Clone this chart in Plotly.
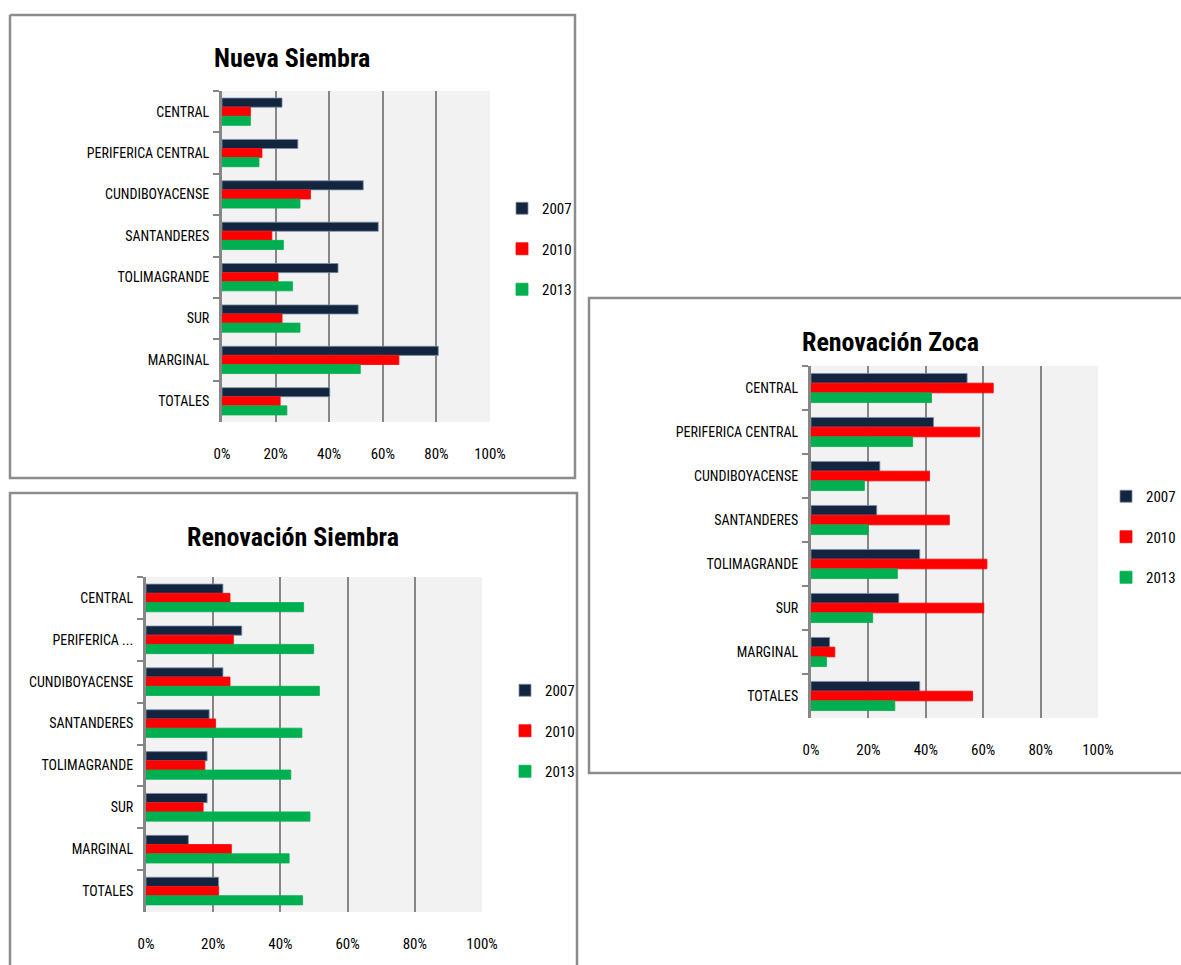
import plotly.graph_objects as go

W, H = 1181, 965
FONT = "Roboto Condensed, Carlito, DejaVu Sans Condensed, sans-serif"

# ---------------- data ----------------
YEARS = ["2007", "2010", "2013"]
COLORS = ["#13243F", "#FF0000", "#00B050"]

CATEGORIES = ["CENTRAL", "PERIFERICA CENTRAL", "CUNDIBOYACENSE", "SANTANDERES",
              "TOLIMAGRANDE", "SUR", "MARGINAL", "TOTALES"]
CATEGORIES_RS = ["CENTRAL", "PERIFERICA ...", "CUNDIBOYACENSE", "SANTANDERES",
                 "TOLIMAGRANDE", "SUR", "MARGINAL", "TOTALES"]

TICK_VALUES = [0, 0.2, 0.4, 0.6, 0.8, 1.0]
TICK_LABELS = ["0%", "20%", "40%", "60%", "80%", "100%"]

# Nueva Siembra
NS_2007 = [0.224, 0.283, 0.527, 0.583, 0.433, 0.508, 0.807, 0.402]
NS_2010 = [0.106, 0.149, 0.330, 0.186, 0.209, 0.224, 0.660, 0.217]
NS_2013 = [0.106, 0.138, 0.291, 0.229, 0.263, 0.291, 0.516, 0.242]

# Renovación Siembra
RS_2007 = [0.229, 0.285, 0.229, 0.188, 0.182, 0.182, 0.126, 0.216]
RS_2010 = [0.250, 0.260, 0.250, 0.207, 0.175, 0.170, 0.254, 0.216]
RS_2013 = [0.469, 0.499, 0.516, 0.464, 0.431, 0.488, 0.426, 0.466]

# Renovación Zoca
RZ_2007 = [0.544, 0.427, 0.240, 0.229, 0.379, 0.306, 0.065, 0.379]
RZ_2010 = [0.635, 0.588, 0.413, 0.482, 0.613, 0.602, 0.083, 0.563]
RZ_2013 = [0.420, 0.354, 0.186, 0.199, 0.301, 0.215, 0.054, 0.292]


def px_x(p):
    return p / W


def px_y(p):
    return 1 - p / H


def frame_path(points):
    return "M " + " L ".join(f"{px_x(x):.5f},{px_y(y):.5f}" for x, y in points)


# layout geometry (pixels); frames as open outlines (parts cut by the page edge are omitted)
charts = [
    dict(title="Nueva Siembra", cats=CATEGORIES, vals=[NS_2007, NS_2010, NS_2013],
         plot_x=(222, 490), plot_y=(91, 422), title_pos=(292, 58),
         legend_pos=(502, 192),
         frame=[(10, 15), (575, 15), (575, 478), (10, 478), (10, 15)]),
    dict(title="Renovación Siembra", cats=CATEGORIES_RS, vals=[RS_2007, RS_2010, RS_2013],
         plot_x=(146, 482), plot_y=(577, 912), title_pos=(293, 537),
         legend_pos=(505, 674),
         frame=[(10, 965), (10, 493), (577, 493), (577, 965)]),
    dict(title="Renovación Zoca", cats=CATEGORIES, vals=[RZ_2007, RZ_2010, RZ_2013],
         plot_x=(811, 1098), plot_y=(366, 718), title_pos=(890, 342),
         legend_pos=(1106, 480),
         frame=[(1181, 298), (589, 298), (589, 773), (1181, 773)]),
]

GRID = "#868686"
fig = go.Figure()
layout = dict(
    width=W, height=H, autosize=False,
    margin=dict(l=0, r=0, t=0, b=0, pad=0, autoexpand=False),
    paper_bgcolor="white", plot_bgcolor="#F2F2F2",
    barmode="group", bargap=0.34, bargroupgap=0,
    showlegend=True,
    font=dict(family=FONT, size=14, color="black"),
    shapes=[], annotations=[],
)

for i, c in enumerate(charts, start=1):
    sx = "" if i == 1 else str(i)
    lg = "legend" if i == 1 else f"legend{i}"
    for year, color, vals in zip(YEARS, COLORS, c["vals"]):
        fig.add_trace(go.Bar(
            x=vals, y=c["cats"], orientation="h", name=year,
            marker=dict(color=color,
                        line=dict(color="#7F8FA6" if year == "2007" else color, width=0.8)),
            xaxis=f"x{sx}", yaxis=f"y{sx}", legend=lg,
            legendgroup=f"c{i}_{year}", hoverinfo="x+y+name",
        ))
    x0, x1 = c["plot_x"]
    y0, y1 = c["plot_y"]
    xdom = [px_x(x0), px_x(x1)]
    ydom = [px_y(y1), px_y(y0)]
    layout[f"xaxis{sx}"] = dict(
        domain=xdom, anchor=f"y{sx}", range=[0, 1], automargin=False,
        tickvals=TICK_VALUES, ticktext=TICK_LABELS,
        showgrid=True, gridcolor=GRID, gridwidth=2,
        zeroline=False, showline=False,
        ticks="outside", ticklen=18, tickcolor="rgba(0,0,0,0)",
        tickfont=dict(family=FONT, size=15, color="black"),
        fixedrange=True,
    )
    # top axis line (Excel-style axis drawn at the top of the plot area)
    layout[f"xaxis{i + 3}"] = dict(
        domain=xdom, anchor=f"y{sx}", overlaying=f"x{sx}", side="top",
        range=[0, 1], tickvals=TICK_VALUES, showticklabels=False, automargin=False,
        showgrid=False, zeroline=False,
        showline=True, linecolor=GRID, linewidth=3,
        ticks="outside", ticklen=4, tickcolor=GRID, tickwidth=2,
        fixedrange=True,
    )
    layout[f"yaxis{sx}"] = dict(
        domain=ydom, anchor=f"x{sx}", type="category", automargin=False,
        categoryorder="array", categoryarray=c["cats"], autorange="reversed",
        showline=True, linecolor=GRID, linewidth=3,
        ticks="outside", tickson="boundaries", ticklen=6,
        tickcolor=GRID, tickwidth=2, showgrid=False, zeroline=False,
        tickfont=dict(family=FONT, size=14, color="black"),
        ticklabelstandoff=7,
        fixedrange=True,
    )
    lx, ly = c["legend_pos"]
    layout[lg] = dict(
        x=px_x(lx), y=px_y(ly), xanchor="left", yanchor="top",
        bgcolor="rgba(0,0,0,0)", font=dict(family=FONT, size=15, color="black"),
        traceorder="grouped", tracegroupgap=18,
    )
    tx, ty = c["title_pos"]
    layout["annotations"].append(dict(
        text=f"<b>{c['title']}</b>", x=px_x(tx), y=px_y(ty),
        xref="paper", yref="paper", xanchor="center", yanchor="middle",
        showarrow=False, font=dict(family=FONT, size=26, color="black"),
    ))
    layout["shapes"].append(dict(
        type="path", xref="paper", yref="paper", path=frame_path(c["frame"]),
        line=dict(color="#8C8C8C", width=2.5), layer="below",
    ))

fig.update_layout(**layout)
fig.write_html(
    "out.html",
    config={"displayModeBar": False},
    post_script="document.body.style.margin='0';document.body.style.overflow='hidden';",
)
